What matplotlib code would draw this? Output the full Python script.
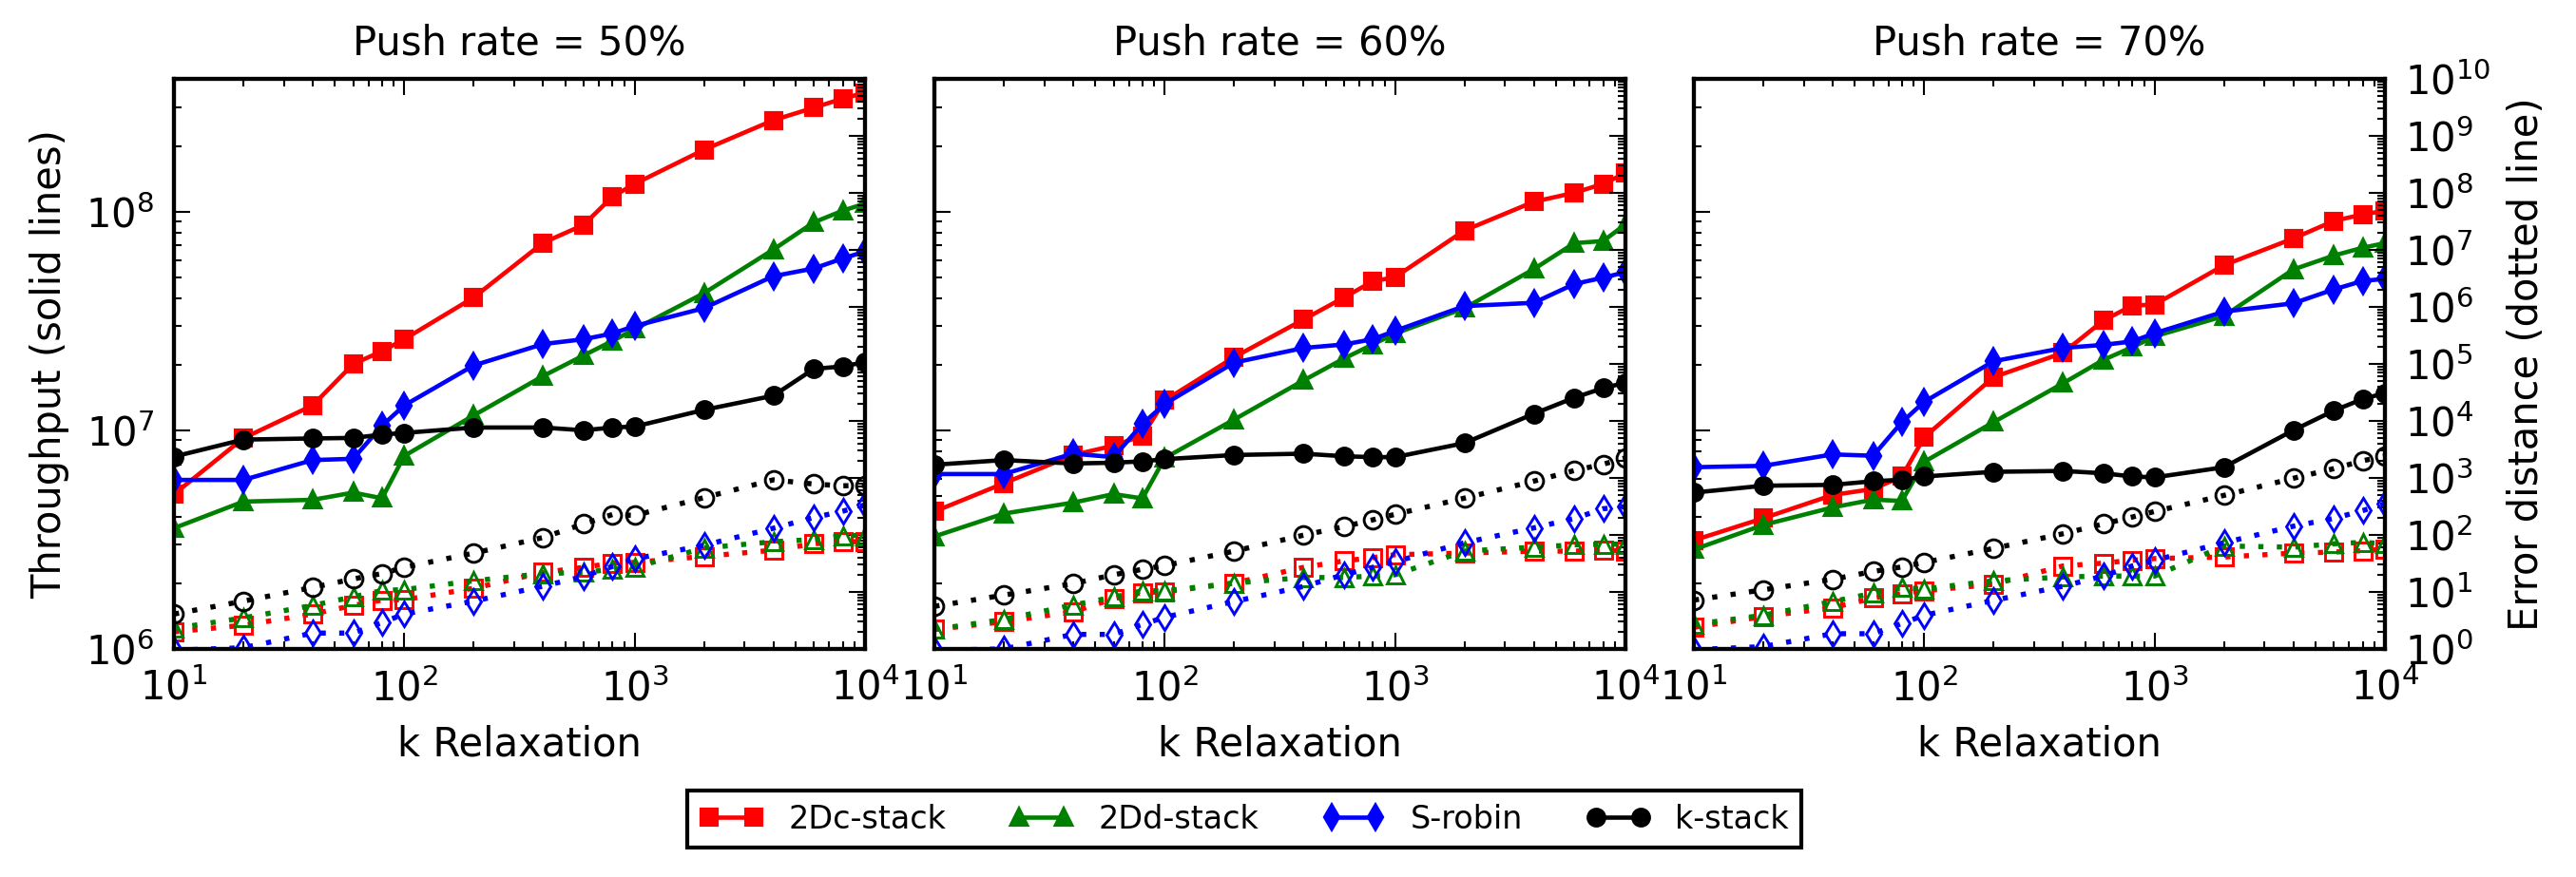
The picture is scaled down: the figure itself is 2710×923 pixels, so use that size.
import numpy as np
import matplotlib
matplotlib.use('Agg')
import matplotlib.pyplot as plt
from matplotlib.ticker import LogLocator, NullFormatter

# k relaxation values (x axis)
k = [10, 20, 40, 60, 80, 100, 200, 400, 600, 800, 1000, 2000, 4000, 6000, 8000, 10000]
push_rates = [50, 60, 70]
names = ['2Dc-stack', '2Dd-stack', 'S-robin', 'k-stack']
colors = ['red', 'green', 'blue', 'black']
markers = ['s', '^', 'd', 'o']

# throughput (solid lines), order: 2Dc, 2Dd, S-robin, k-stack
tp_50 = [
    [5.1e6, 9.2e6, 1.30e7, 2.01e7, 2.30e7, 2.61e7, 4.05e7, 7.2e7, 8.7e7, 1.17e8, 1.34e8, 1.92e8, 2.62e8, 2.99e8, 3.29e8, 3.50e8],
    [3.57e6, 4.72e6, 4.81e6, 5.19e6, 4.89e6, 7.64e6, 1.17e7, 1.77e7, 2.20e7, 2.56e7, 2.90e7, 4.24e7, 6.71e7, 8.94e7, 1.01e8, 1.09e8],
    [5.93e6, 5.93e6, 7.31e6, 7.41e6, 1.05e7, 1.30e7, 1.98e7, 2.48e7, 2.61e7, 2.77e7, 3.00e7, 3.62e7, 5.07e7, 5.50e7, 6.11e7, 6.57e7],
    [7.58e6, 9.07e6, 9.18e6, 9.23e6, 9.56e6, 9.73e6, 1.03e7, 1.03e7, 1.00e7, 1.03e7, 1.04e7, 1.24e7, 1.44e7, 1.91e7, 1.96e7, 2.05e7],
]
tp_60 = [
    [4.25e6, 5.72e6, 7.71e6, 8.51e6, 9.44e6, 1.37e7, 2.16e7, 3.21e7, 4.05e7, 4.80e7, 5.02e7, 8.20e7, 1.11e8, 1.22e8, 1.34e8, 1.50e8],
    [3.27e6, 4.16e6, 4.67e6, 5.11e6, 4.88e6, 7.47e6, 1.12e7, 1.69e7, 2.13e7, 2.47e7, 2.77e7, 3.62e7, 5.46e7, 7.18e7, 7.34e7, 8.75e7],
    [6.31e6, 6.31e6, 7.82e6, 7.54e6, 1.07e7, 1.32e7, 2.04e7, 2.38e7, 2.47e7, 2.61e7, 2.85e7, 3.70e7, 3.83e7, 4.67e7, 4.99e7, 5.29e7],
    [6.96e6, 7.31e6, 7.05e6, 7.11e6, 7.21e6, 7.38e6, 7.71e6, 7.82e6, 7.61e6, 7.54e6, 7.54e6, 8.74e6, 1.19e7, 1.41e7, 1.56e7, 1.65e7],
]
tp_70 = [
    [3.14e6, 3.96e6, 5.06e6, 5.39e6, 6.15e6, 9.30e6, 1.75e7, 2.26e7, 3.18e7, 3.72e7, 3.76e7, 5.69e7, 7.54e7, 9.07e7, 9.71e7, 1.01e8],
    [2.85e6, 3.69e6, 4.44e6, 4.82e6, 4.75e6, 7.18e6, 1.09e7, 1.64e7, 2.10e7, 2.40e7, 2.69e7, 3.33e7, 5.44e7, 6.30e7, 6.84e7, 7.18e7],
    [6.78e6, 6.88e6, 7.76e6, 7.65e6, 1.09e7, 1.35e7, 2.07e7, 2.38e7, 2.46e7, 2.55e7, 2.78e7, 3.49e7, 3.81e7, 4.41e7, 4.82e7, 4.93e7],
    [5.19e6, 5.58e6, 5.63e6, 5.85e6, 5.94e6, 6.15e6, 6.46e6, 6.52e6, 6.36e6, 6.15e6, 6.09e6, 6.78e6, 1.0e7, 1.23e7, 1.39e7, 1.48e7],
]

# error distance (dotted lines)
err_50 = [
    [2.0, 2.6, 4.1, 5.8, 7.2, 7.3, 11.6, 22, 27, 32, 33, 42, 54, 70, 76, 76],
    [2.3, 3.5, 5.8, 8.2, 10.6, 11, 15.7, 21, 22, 25, 27, 59, 76, 83, 98, 98],
    [0.95, 1.05, 1.9, 1.9, 2.9, 4.1, 6.9, 12.6, 18.7, 28, 38, 66, 131, 202, 261, 337],
    [4.1, 6.9, 12, 16.9, 21, 27, 48, 90, 156, 228, 220, 451, 926, 780, 728, 741],
]
err_60 = [
    [2.2, 3.0, 4.5, 7.6, 9.8, 10, 14.3, 27, 35, 40, 45, 48, 52, 52, 54, 52],
    [2.2, 3.3, 5.9, 8.1, 10.5, 10.5, 14.3, 17.9, 17.9, 19, 20, 52, 61, 67, 69, 69],
    [0.95, 1.0, 1.8, 1.8, 2.7, 3.6, 6.8, 12.5, 20, 27, 34, 73, 133, 194, 288, 313],
    [5.6, 8.8, 14, 20, 25, 29, 52, 99, 140, 184, 230, 442, 878, 1350, 1740, 2250],
]
err_70 = [
    [2.4, 3.7, 5.3, 7.8, 9.4, 10.5, 13.6, 28.6, 32, 36, 38.5, 41, 48, 50, 53, 56],
    [2.7, 3.9, 6.8, 9.5, 11.9, 11.3, 15.7, 18.3, 19, 19, 19, 64, 61, 70, 74, 70],
    [0.97, 1.1, 1.85, 1.85, 2.8, 3.9, 7.1, 12.6, 19, 28.6, 36, 73, 142, 195, 267, 354],
    [7.2, 10.9, 16.7, 22.9, 27.5, 33, 58, 105, 156, 206, 258, 494, 985, 1457, 2000, 2410],
]

throughput = [tp_50, tp_60, tp_70]
errors = [err_50, err_60, err_70]

plt.rcParams['font.family'] = 'DejaVu Sans'
plt.rcParams['font.size'] = 10
plt.rcParams['axes.linewidth'] = 1.0
for ax_name in ['xtick', 'ytick']:
    plt.rcParams[ax_name + '.direction'] = 'in'
    plt.rcParams[ax_name + '.major.size'] = 4
    plt.rcParams[ax_name + '.minor.size'] = 2
    plt.rcParams[ax_name + '.major.width'] = 0.5
    plt.rcParams[ax_name + '.minor.width'] = 0.5
    plt.rcParams[ax_name + '.major.pad'] = 5
plt.rcParams['xtick.top'] = True
plt.rcParams['ytick.right'] = True

W, H = 2710, 923
fig = plt.figure(figsize=(W / 300, H / 300), dpi=300)

lefts = [183, 983, 1782]
ax_w, ax_top, ax_bot = 727, 83, 683

handles = []
for i, rate in enumerate(push_rates):
    ax = fig.add_axes([lefts[i] / W, (H - ax_bot) / H, ax_w / W, (ax_bot - ax_top) / H])
    ax.set_xscale('log')
    ax.set_yscale('log')
    ax2 = ax.twinx()
    ax2.set_yscale('log')
    for j in range(4):
        ln, = ax.plot(k, throughput[i][j], color=colors[j], marker=markers[j],
                      markersize=4, markeredgecolor=colors[j], linewidth=1.1)
        if i == 0:
            handles.append(ln)
        ax2.plot(k, errors[i][j], color=colors[j], marker=markers[j], linestyle=(0, (1, 2.6)),
                 markersize=4.5, markerfacecolor='none', markeredgecolor=colors[j],
                 markeredgewidth=0.7, linewidth=1.3)
    ax.set_xlim(10, 1e4)
    ax.set_ylim(1e6, 4.05e8)
    ax2.set_ylim(1, 1e10)
    ax2.yaxis.set_major_locator(LogLocator(base=10, numticks=20))
    ax2.yaxis.set_minor_locator(LogLocator(base=10, subs=np.arange(2, 10), numticks=100))
    ax2.yaxis.set_minor_formatter(NullFormatter())
    ax.set_title('Push rate = %d%%' % rate, fontsize=10)
    ax.set_xlabel('k Relaxation', fontsize=10)
    if i == 0:
        ax.set_ylabel('Throughput (solid lines)', fontsize=10)
    else:
        ax.tick_params(axis='y', which='both', labelleft=False)
    if i == 2:
        ax2.set_ylabel('Error distance (dotted line)', fontsize=10)
    else:
        ax2.tick_params(axis='y', which='both', labelright=False)

leg = fig.legend(handles, names, loc='center', bbox_to_anchor=(1309 / W, (H - 862) / H),
                 ncol=4, numpoints=2, fontsize=8, fancybox=False, framealpha=1,
                 edgecolor='black', handlelength=2.0, columnspacing=2.0)
leg.get_frame().set_linewidth(1.0)

fig.savefig('out.png', dpi=300)
